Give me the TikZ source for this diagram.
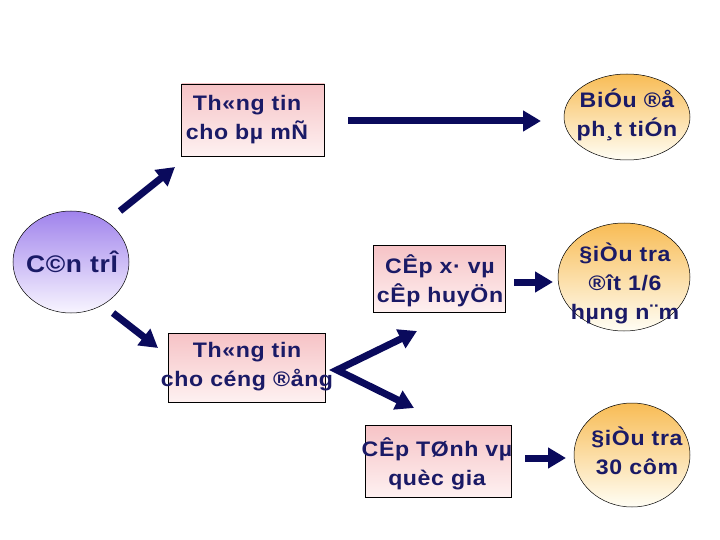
\documentclass[tikz,border=0pt]{standalone}
\usepackage{fontspec}
\setmainfont{Liberation Sans}
\newfontfamily\lblfont{Liberation Sans}[FakeStretch=1.1,LetterSpace=3]
\usetikzlibrary{arrows.meta,shapes.geometric}
\definecolor{navy}{HTML}{1A1A66}
\definecolor{arrowblue}{HTML}{0A0A5C}
\definecolor{pinktop}{HTML}{F6C3C6}
\definecolor{pinkbot}{HTML}{FEF1F1}
\definecolor{orangetop}{HTML}{F8BC55}
\definecolor{orangebot}{HTML}{FFFEF5}
\definecolor{purpletop}{HTML}{A083EC}
\definecolor{purplebot}{HTML}{F8F5FF}
\tikzset{
  pinkbox/.style={draw=black, line width=0.6pt, rectangle, top color=pinktop, bottom color=pinkbot, inner sep=0pt},
  orangeell/.style={draw=black, line width=0.5pt, ellipse, top color=orangetop, bottom color=orangebot, inner sep=0pt},
  purpleell/.style={draw=black, line width=0.5pt, ellipse, top color=purpletop, bottom color=purplebot, inner sep=0pt},
  lbl/.style={text=navy, font=\lblfont\fontsize{21}{29}\selectfont\bfseries, align=center, inner sep=0pt},
  bigarrow/.style={draw=arrowblue, line width=7pt, -{Triangle[length=18pt,width=20pt]}},
  vee/.style={draw=arrowblue, line width=7pt, line join=miter, {Triangle[length=18pt,width=20pt]}-{Triangle[length=18pt,width=20pt]}}
}
\begin{document}
\begin{tikzpicture}[x=1pt,y=-1pt]
\useasboundingbox (0,0) rectangle (720,540);
% shapes
\node[pinkbox, minimum width=143pt, minimum height=72pt] (b1) at (253,120) {};
\node[orangeell, minimum width=126pt, minimum height=86pt] (e1) at (627,117) {};
\node[purpleell, minimum width=116pt, minimum height=102pt] (c) at (71,262) {};
\node[pinkbox, minimum width=132pt, minimum height=67pt] (b2) at (439,279) {};
\node[orangeell, minimum width=132pt, minimum height=108pt] (e2) at (624,277) {};
\node[pinkbox, minimum width=157pt, minimum height=69pt] (b3) at (246.5,368) {};
\node[pinkbox, minimum width=146pt, minimum height=72pt] (b4) at (438,461) {};
\node[orangeell, minimum width=116pt, minimum height=104pt] (e3) at (632,455) {};
% texts
\node[lbl] (t1) at (247,120) {Th«ng tin\\cho bµ mÑ};
\node[lbl] (t2) at (627,115) {BiÓu ®å\\ph¸t tiÓn};
\node[lbl, font=\lblfont\fontsize{24}{29}\selectfont\bfseries] (t3) at (72,262) {C©n trÎ};
\node[lbl] (t4) at (440,281) {CÊp x· vµ\\cÊp huyÖn};
\node[lbl] (t5) at (625,283) {§iÒu tra\\®ît 1/6\\hµng n¨m};
\node[lbl] (t6) at (247,367) {Th«ng tin\\cho céng ®ång};
\node[lbl] (t7) at (437,464) {CÊp TØnh vµ\\quèc gia};
\node[lbl] (t8) at (637,451) {§iÒu tra\\30 côm};
% arrow endpoints
\coordinate (a1s) at (348,121);
\coordinate (a1e) at (541,121);
\coordinate (a2s) at (120,211);
\coordinate (a2e) at (175,167);
\coordinate (a3s) at (113,313);
\coordinate (a3e) at (158,348);
\coordinate (a4s) at (514,282);
\coordinate (a4e) at (553,282);
\coordinate (a5s) at (525,458);
\coordinate (a5e) at (566,458);
\coordinate (vtop) at (417,331);
\coordinate (vmid) at (337,370);
\coordinate (vbot) at (414,408);
% arrows
\draw[bigarrow] (a1s) -- (a1e);
\draw[bigarrow] (a2s) -- (a2e);
\draw[bigarrow] (a3s) -- (a3e);
\draw[bigarrow] (a4s) -- (a4e);
\draw[bigarrow] (a5s) -- (a5e);
\draw[vee] (vtop) -- (vmid) -- (vbot);
\end{tikzpicture}
\end{document}
